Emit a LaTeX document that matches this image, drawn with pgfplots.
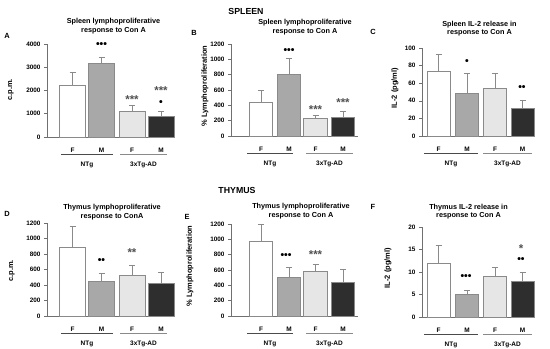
\documentclass[border=0pt]{standalone}
\usepackage{pgfplots}
\pgfplotsset{compat=1.18}
\usepackage{fontspec}
\setmainfont{Liberation Sans}
\definecolor{axgray}{HTML}{707070}
\definecolor{edge}{HTML}{8A8A8A}
\definecolor{barM}{HTML}{A8A8A8}
\definecolor{barFt}{HTML}{E6E6E6}
\definecolor{barMt}{HTML}{2E2E2E}
\definecolor{gline1}{HTML}{4A4A4A}
\definecolor{gline2}{HTML}{8A8A8A}
\definecolor{astc}{HTML}{505050}
\newcommand\tfont{\fontsize{7.3}{8.4}\selectfont\bfseries}
\newcommand\lfont{\fontsize{7.5}{8}\selectfont\bfseries}
\newcommand\gfont{\fontsize{6.5}{7.5}\selectfont\bfseries}
\newcommand\dfont{\fontsize{10.5}{11}\selectfont\bfseries}
\newcommand\afont{\fontsize{11.5}{12}\selectfont\bfseries}
\pgfplotsset{
 panel/.style={
  scale only axis, anchor=south west, axis lines=left,
  axis line style={-, draw=axgray, line width=0.8pt},
  ymin=0, xmin=0,
  tick align=outside, major tick length=3bp,
  ytick style={draw=axgray, line width=0.6pt},
  xtick style={draw=none},
  clip=false,
  /pgf/number format/assume math mode=true,
  /pgf/number format/1000 sep={},
  yticklabel style={font=\fontsize{6.4}{7}\selectfont\bfseries},
  xticklabel style={font=\fontsize{6.5}{7}\selectfont\bfseries, anchor=base, yshift=-12.5bp},
  xticklabels={F,M,F,M},
  error bars/y dir=plus, error bars/y explicit,
  error bars/error bar style={draw=edge, line width=0.6pt},
  error bars/error mark options={rotate=90, draw=edge, mark size=3bp, line width=0.6pt},
 },
 bF/.style={ybar, bar shift=0pt, fill=white, draw=edge, line width=0.6pt},
 bM/.style={ybar, bar shift=0pt, fill=barM, draw=edge, line width=0.6pt},
 bFt/.style={ybar, bar shift=0pt, fill=barFt, draw=edge, line width=0.6pt},
 bMt/.style={ybar, bar shift=0pt, fill=barMt, draw=edge, line width=0.6pt},
}
\tikzset{
 sigdot/.style={font=\dfont, inner sep=0pt},
 sigast/.style={font=\afont, text=astc, inner sep=0pt, yshift=-2.5bp},
}
\newcommand\groups[6]{%
 \draw[draw=gline1, line width=0.8pt] ([yshift=-17.5bp]axis cs:#1,0) -- ([yshift=-17.5bp]axis cs:#2,0);
 \draw[draw=gline2, line width=0.8pt] ([yshift=-17.5bp]axis cs:#3,0) -- ([yshift=-17.5bp]axis cs:#4,0);
 \node[font=\gfont, anchor=base, inner sep=0pt] at ([yshift=-29bp]axis cs:#5,0) {NTg};
 \node[font=\gfont, anchor=base, inner sep=0pt] at ([yshift=-29bp]axis cs:#6,0) {3xTg-AD};
}
\begin{document}
\begin{tikzpicture}
\path[use as bounding box] (0,0) rectangle (550bp,-349bp);

% ---------- A ----------
\begin{axis}[panel, at={(47bp,-137bp)}, width=128bp, height=93bp, xmax=128, ymax=4000,
  ytick={0,1000,2000,3000,4000}, bar width=26, xtick={25.5,54.5,85,114}]
\addplot[bF] coordinates {(25.5,2220) +- (0,570)};
\addplot[bM] coordinates {(54.5,3180) +- (0,265)};
\addplot[bFt] coordinates {(85,1120) +- (0,230)};
\addplot[bMt] coordinates {(114,870) +- (0,230)};
\groups{14}{66}{73}{120}{40}{96.5}
\end{axis}

% ---------- B ----------
\begin{axis}[panel, at={(231bp,-136bp)}, width=127bp, height=92bp, xmax=127, ymax=1200,
  ytick={0,200,...,1200}, bar width=23.5, xtick={30,58,84.5,112}]
\addplot[bF] coordinates {(30,437) +- (0,160)};
\addplot[bM] coordinates {(58,805) +- (0,215)};
\addplot[bFt] coordinates {(84.5,228) +- (0,47)};
\addplot[bMt] coordinates {(112,245) +- (0,75)};
\groups{16}{62}{75}{122}{39}{98.5}
\end{axis}

% ---------- C ----------
\begin{axis}[panel, at={(422bp,-136bp)}, width=113bp, height=88bp, xmax=113, ymax=100,
  ytick={0,20,...,100}, bar width=23, xtick={16.5,45,73,100.5}]
\addplot[bF] coordinates {(16.5,73) +- (0,20)};
\addplot[bM] coordinates {(45,49) +- (0,22)};
\addplot[bFt] coordinates {(73,54.5) +- (0,17)};
\addplot[bMt] coordinates {(100.5,32) +- (0,9)};
\groups{2}{56}{61}{110}{29}{85.5}
\end{axis}

% ---------- D ----------
\begin{axis}[panel, at={(47bp,-316bp)}, width=128bp, height=93bp, xmax=128, ymax=1200,
  ytick={0,200,...,1200}, bar width=26, xtick={25.5,54.5,85,114}]
\addplot[bF] coordinates {(25.5,883) +- (0,280)};
\addplot[bM] coordinates {(54.5,450) +- (0,103)};
\addplot[bFt] coordinates {(85,519) +- (0,132)};
\addplot[bMt] coordinates {(114,420) +- (0,150)};
\groups{14}{66}{73}{120}{40}{96.5}
\end{axis}

% ---------- E ----------
\begin{axis}[panel, at={(231bp,-316bp)}, width=127bp, height=92bp, xmax=127, ymax=1200,
  ytick={0,200,...,1200}, bar width=23.5, xtick={30,58,84.5,112}]
\addplot[bF] coordinates {(30,980) +- (0,220)};
\addplot[bM] coordinates {(58,505) +- (0,135)};
\addplot[bFt] coordinates {(84.5,580) +- (0,100)};
\addplot[bMt] coordinates {(112,445) +- (0,160)};
\groups{16}{62}{75}{122}{39}{98.5}
\end{axis}

% ---------- F ----------
\begin{axis}[panel, at={(422bp,-317bp)}, width=113bp, height=90bp, xmax=113, ymax=20,
  ytick={0,5,...,20}, bar width=23, xtick={16.5,45,73,100.5}]
\addplot[bF] coordinates {(16.5,12) +- (0,4)};
\addplot[bM] coordinates {(45,5) +- (0,1)};
\addplot[bFt] coordinates {(73,9) +- (0,2)};
\addplot[bMt] coordinates {(100.5,8) +- (0,2)};
\groups{2}{56}{61}{110}{29}{85.5}
\end{axis}

\begin{scope}[x=1bp, y=-1bp]
% section headings
\node[font=\fontsize{8.8}{10}\selectfont\bfseries] at (246,11) {SPLEEN};
\node[font=\fontsize{8.8}{10}\selectfont\bfseries] at (237,190) {THYMUS};
% panel letters
\foreach \l/\x/\y in {A/7/36, B/194/33, C/373/32, D/7/214, E/187/217, F/373/207}
  \node[font=\fontsize{7.5}{8}\selectfont\bfseries] at (\x,\y) {\l};
% titles
\node[font=\tfont, align=center] at (113.5,26) {Spleen lymphoproliferative\\response to Con A};
\node[font=\tfont, align=center] at (305,27) {Spleen lymphoproliferative\\response to Con A};
\node[font=\tfont, align=center] at (479.5,28.5) {Spleen IL-2 release in\\response to Con A};
\node[font=\tfont, align=center] at (112,212) {Thymus lymphoproliferative\\response to ConA};
\node[font=\tfont, align=center] at (301,211) {Thymus lymphoproliferative\\response to Con A};
\node[font=\tfont, align=center] at (468.5,211.5) {Thymus IL-2 release in\\response to Con A};
% y labels
\node[font=\lfont, rotate=90] at (11,90) {c.p.m.};
\node[font=\lfont, rotate=90] at (205,86) {\% Lymphoproliferation};
\node[font=\lfont, rotate=90] at (395,88) {IL-2 (pg/ml)};
\node[font=\lfont, rotate=90] at (12,271) {c.p.m.};
\node[font=\lfont, rotate=90] at (190,266) {\% Lymphoproliferation};
\node[font=\lfont, rotate=90] at (388,268) {IL-2 (pg/ml)};
% significance marks
\node[sigdot] at (101.5,45) {•••};
\node[sigast] at (132,97) {***};
\node[sigast] at (161,88.5) {***};
\node[sigdot] at (161,103) {•};
\node[sigdot] at (289,51) {•••};
\node[sigast] at (315.5,107) {***};
\node[sigast] at (343,100) {***};
\node[sigdot] at (467,62) {•};
\node[sigdot] at (522,88) {••};
\node[sigdot] at (101.5,261) {••};
\node[sigast] at (132,250) {**};
\node[sigdot] at (286,256) {•••};
\node[sigast] at (315.5,252) {***};
\node[sigdot] at (466,277) {•••};
\node[sigast] at (521,246.5) {*};
\node[sigdot] at (521,260.5) {••};
\end{scope}
\end{tikzpicture}
\end{document}
